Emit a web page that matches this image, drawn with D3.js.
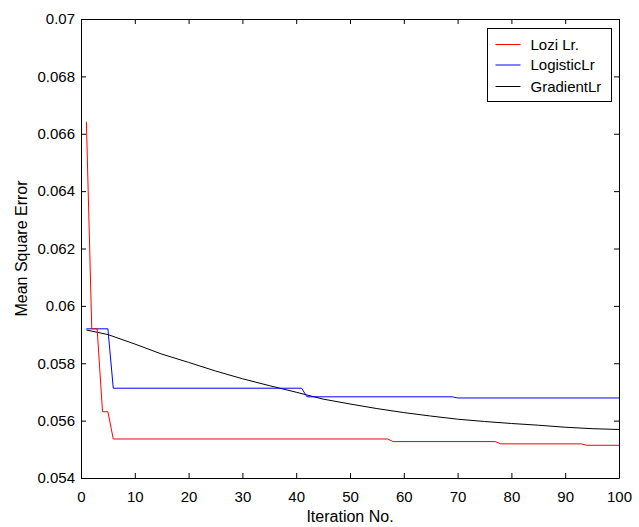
<!DOCTYPE html>
<html>
<head>
<meta charset="utf-8">
<script src="https://cdn.jsdelivr.net/npm/d3@7"></script>
<style>
  html, body { margin: 0; padding: 0; background: #fff; }
  svg { display: block; }
  text { font-family: "Liberation Sans", Arial, sans-serif; fill: #000; }
</style>
</head>
<body>
<div id="chart"></div>
<script>
// Breakpoints (iteration, MSE)
const loziIter = [1, 2, 3, 4, 5, 6, 57, 58, 77, 78, 93, 94, 100];
const loziMse  = [0.06642, 0.05920, 0.05920, 0.05631, 0.05631, 0.05536, 0.05536,
                  0.05527, 0.05527, 0.05519, 0.05519, 0.05514, 0.05514];

const logisticIter = [1, 5, 6, 41, 42, 69, 70, 100];
const logisticMse  = [0.05920, 0.05920, 0.05713, 0.05713, 0.05683, 0.05683, 0.05679, 0.05679];

const gradientIter = [1, 5, 10, 15, 20, 25, 30, 35, 40, 45, 50, 55, 60, 65, 70, 75, 80, 85, 90, 95, 100];
const gradientMse  = [0.05916, 0.05900, 0.05867, 0.05832, 0.05803, 0.05773, 0.05746, 0.05722,
                      0.05699, 0.05675, 0.05658, 0.05642, 0.05628, 0.05616, 0.05605, 0.05597,
                      0.05590, 0.05584, 0.05577, 0.05572, 0.05569];

const seriesNames  = ['Lozi Lr.', 'LogisticLr', 'GradientLr'];
const seriesColors = ['#ff0000', '#0000ff', '#000000'];

const xTicks = [0, 10, 20, 30, 40, 50, 60, 70, 80, 90, 100];
const yTicks = [0.054, 0.056, 0.058, 0.06, 0.062, 0.064, 0.066, 0.068, 0.07];

const W = 639, H = 527;
const margin = { top: 19, right: 20, bottom: 49, left: 81 };

const svg = d3.select('#chart').append('svg')
    .attr('width', W).attr('height', H);

const x = d3.scaleLinear().domain([0, 100]).range([margin.left, W - margin.right]);
const y = d3.scaleLinear().domain([0.054, 0.07]).range([H - margin.bottom, margin.top]);

const fmtY = d => String(+d.toFixed(3));

// axes, MATLAB style: ticks pointing in on all four sides
svg.append('g')
    .attr('transform', `translate(0,${y.range()[0]})`)
    .call(d3.axisBottom(x).tickValues(xTicks).tickSizeInner(-5).tickSizeOuter(0).tickPadding(13))
    .call(g => g.selectAll('text').attr('font-size', 15));

svg.append('g')
    .attr('transform', `translate(0,${y.range()[1]})`)
    .call(d3.axisTop(x).tickValues(xTicks).tickSizeInner(-5).tickSizeOuter(0).tickFormat(''));

svg.append('g')
    .attr('transform', `translate(${x.range()[0]},0)`)
    .call(d3.axisLeft(y).tickValues(yTicks).tickFormat(fmtY).tickSizeInner(-5).tickSizeOuter(0).tickPadding(6))
    .call(g => g.selectAll('text').attr('font-size', 15));

svg.append('g')
    .attr('transform', `translate(${x.range()[1]},0)`)
    .call(d3.axisRight(y).tickValues(yTicks).tickSizeInner(-5).tickSizeOuter(0).tickFormat(''));

svg.selectAll('.domain').attr('stroke', '#000');
svg.selectAll('.tick line').attr('stroke', '#000');

// series lines
const series = [
    { iter: gradientIter, mse: gradientMse, color: seriesColors[2] },
    { iter: logisticIter, mse: logisticMse, color: seriesColors[1] },
    { iter: loziIter, mse: loziMse, color: seriesColors[0] }
];

const line = d3.line().x(d => x(d[0])).y(d => y(d[1]));

series.forEach(s => {
    svg.append('path')
        .datum(s.iter.map((it, i) => [it, s.mse[i]]))
        .attr('fill', 'none')
        .attr('stroke', s.color)
        .attr('stroke-width', 1)
        .attr('d', line);
});

// axis labels
svg.append('text')
    .attr('x', (x.range()[0] + x.range()[1]) / 2)
    .attr('y', 522)
    .attr('text-anchor', 'middle')
    .attr('font-size', 16)
    .text('Iteration No.');

svg.append('text')
    .attr('transform', `translate(27,${(y.range()[0] + y.range()[1]) / 2}) rotate(-90)`)
    .attr('text-anchor', 'middle')
    .attr('font-size', 16)
    .text('Mean Square Error');

// legend
const legend = svg.append('g').attr('transform', 'translate(487.5,28.5)');
legend.append('rect')
    .attr('width', 124).attr('height', 73)
    .attr('fill', '#fff').attr('stroke', '#000');

const rowY = [16, 36.5, 58];
seriesNames.forEach((name, i) => {
    legend.append('line')
        .attr('x1', 8).attr('x2', 33)
        .attr('y1', rowY[i]).attr('y2', rowY[i])
        .attr('stroke', seriesColors[i]);
    legend.append('text')
        .attr('x', 43).attr('y', rowY[i])
        .attr('dy', '0.35em')
        .attr('font-size', 15)
        .text(name);
});
</script>
</body>
</html>
